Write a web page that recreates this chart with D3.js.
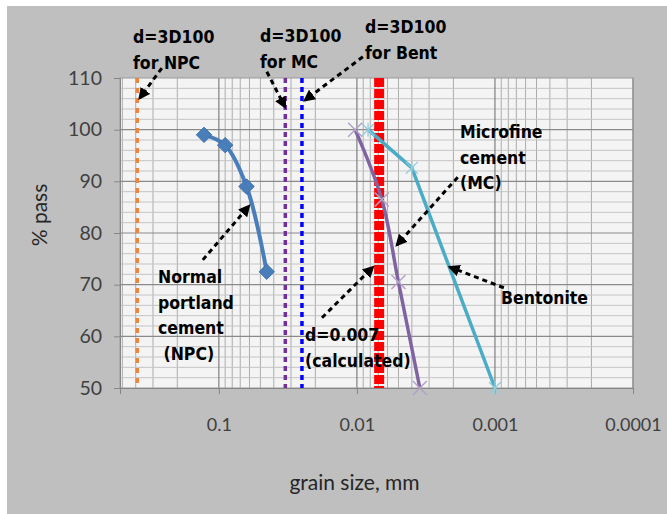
<!DOCTYPE html>
<html>
<head>
<meta charset="utf-8">
<script src="https://cdn.jsdelivr.net/npm/d3@7"></script>
<style>
  body { margin: 0; background: #fff; }
  svg { display: block; }
  .tick text { font-family: Lato, "Open Sans", sans-serif; fill: #404040; }
  .note { font-family: "Liberation Sans Narrow", "DejaVu Sans Condensed", sans-serif; font-weight: bold; font-size: 17.5px; fill: #000; }
</style>
</head>
<body>
<div id="chart"></div>
<script>
// grain size distribution data (mm, % passing)
var npcSize = [0.128, 0.090, 0.063, 0.045];
var npcPass = [99, 97, 89, 72.5];

var mcSize = [0.0103, 0.0066, 0.0050, 0.0035];
var mcPass = [100, 86.5, 70.5, 50];

var bentSize = [0.0083, 0.0040, 0.0010];
var bentPass = [100, 92.6, 50];

// vertical reference lines (d = 3 D100 and calculated d)
var refNames = ["NPC", "MC", "Bent", "calc"];
var refSize = [0.39, 0.033, 0.025, 0.0069];

var xTicks = [0.1, 0.01, 0.001, 0.0001];
var yTicks = [50, 60, 70, 80, 90, 100, 110];

// annotation arrows: [fromSize, fromPass, toSize, toPass]
var arrows = [
  [0.259, 111.9, 0.374, 106.1],
  [0.0449, 111.2, 0.0332, 104.4],
  [0.00905, 114.1, 0.0238, 105.7],
  [0.00186, 90.8, 0.00513, 77.7],
  [0.000862, 69.4, 0.00212, 73.4],
  [0.0179, 63.6, 0.00766, 73.4],
  [0.1306, 74.8, 0.0606, 85.2]
];

var W = 667, H = 514;
var margin = {left: 120, right: 34, top: 78, bottom: 126};
var width = W - margin.left - margin.right;
var height = H - margin.top - margin.bottom;

var svg = d3.select("#chart").append("svg").attr("width", W).attr("height", H);

svg.append("rect").attr("x", 7).attr("y", 6).attr("width", W - 7).attr("height", H - 6)
  .attr("fill", "#bfbfbf");

var x = d3.scaleLog().domain([0.52, 0.0001]).range([0, width]);
var y = d3.scaleLinear().domain([50, 110]).range([height, 0]);

var g = svg.append("g").attr("transform", "translate(" + margin.left + "," + margin.top + ")");

g.append("rect").attr("width", width).attr("height", height).attr("fill", "#f4f4f4");

// minor vertical grid (log)
var minorX = [];
[1, 0.1, 0.01, 0.001].forEach(function(dec) {
  for (var k = 2; k <= 9; k++) {
    var v = dec * k / 10;
    if (v < 0.52 && v > 0.0001) minorX.push(v);
  }
});
g.selectAll(".vminor").data(minorX).enter().append("line")
  .attr("x1", function(d) { return x(d); }).attr("x2", function(d) { return x(d); })
  .attr("y1", 0).attr("y2", height)
  .attr("stroke", "#acacac").attr("stroke-width", 1);

// horizontal grid
g.selectAll(".hgrid").data(d3.range(52, 110, 2)).enter().append("line")
  .attr("x1", 0).attr("x2", width)
  .attr("y1", function(d) { return y(d); }).attr("y2", function(d) { return y(d); })
  .attr("stroke", function(d) { return d % 10 === 0 ? "#8a8a8a" : "#c4c4c4"; })
  .attr("stroke-width", function(d) { return d % 10 === 0 ? 1.2 : 1; });

g.selectAll(".vmajor").data(xTicks).enter().append("line")
  .attr("x1", function(d) { return x(d); }).attr("x2", function(d) { return x(d); })
  .attr("y1", 0).attr("y2", height)
  .attr("stroke", "#7f7f7f").attr("stroke-width", 1.2);

g.append("rect").attr("width", width).attr("height", height)
  .attr("fill", "none").attr("stroke", "#9a9a9a");

// axes
var xAxis = d3.axisBottom(x).tickValues(xTicks).tickFormat(function(d) { return String(+d.toFixed(4)); })
  .tickSize(6).tickPadding(24);
var yAxis = d3.axisLeft(y).tickValues(yTicks).tickSize(6).tickPadding(12);

var gx = g.append("g").attr("transform", "translate(0," + height + ")").call(xAxis);
var gy = g.append("g").call(yAxis);
[gx, gy].forEach(function(a) {
  a.select(".domain").attr("stroke", "#868686");
  a.selectAll(".tick line").attr("stroke", "#868686");
});
gx.selectAll(".tick text").style("font-size", "18px");
gy.selectAll(".tick text").style("font-size", "19.5px");

// reference lines
var refStyle = {
  NPC: {c: "#f0843c", w: 3.5, dash: "5,5"},
  MC: {c: "#7030a0", w: 3.5, dash: "5,4"},
  Bent: {c: "#0000ff", w: 3.5, dash: "5,4"},
  calc: {c: "#ff0000", w: 10, dash: "9,2"}
};
g.selectAll(".ref").data(refNames).enter().append("line")
  .attr("x1", function(d, i) { return x(refSize[i]); })
  .attr("x2", function(d, i) { return x(refSize[i]); })
  .attr("y1", 0).attr("y2", height)
  .attr("stroke", function(d) { return refStyle[d].c; })
  .attr("stroke-width", function(d) { return refStyle[d].w; })
  .attr("stroke-dasharray", function(d) { return refStyle[d].dash; });

var line = d3.line()
  .x(function(d) { return x(d[0]); })
  .y(function(d) { return y(d[1]); })
  .curve(d3.curveCatmullRom.alpha(0.5));

function pairs(a, b) { return a.map(function(v, i) { return [v, b[i]]; }); }

var npc = pairs(npcSize, npcPass), mc = pairs(mcSize, mcPass), bent = pairs(bentSize, bentPass);

// MC series
g.append("path").attr("d", line(mc)).attr("fill", "none").attr("stroke", "#8064a2").attr("stroke-width", 3.5);
g.selectAll(".mcx").data(mc).enter().append("path")
  .attr("transform", function(d) { return "translate(" + x(d[0]) + "," + y(d[1]) + ")"; })
  .attr("d", "M-7,-7L7,7M-7,7L7,-7")
  .attr("stroke", "#b3a2c7").attr("stroke-width", 1.5);

// Bentonite series
g.append("path").attr("d", line.curve(d3.curveLinear)(bent)).attr("fill", "none").attr("stroke", "#4bacc6").attr("stroke-width", 3.5);
line.curve(d3.curveCatmullRom.alpha(0.5));
g.selectAll(".bx").data(bent).enter().append("path")
  .attr("transform", function(d) { return "translate(" + x(d[0]) + "," + y(d[1]) + ")"; })
  .attr("d", "M-6,-6L6,6M-6,6L6,-6M0,-7L0,7")
  .attr("stroke", "#92cddc").attr("stroke-width", 1.3);

// NPC series
g.append("path").attr("d", line(npc)).attr("fill", "none").attr("stroke", "#4a7ebb").attr("stroke-width", 4);
g.selectAll(".npcd").data(npc).enter().append("path")
  .attr("transform", function(d) { return "translate(" + x(d[0]) + "," + y(d[1]) + ")"; })
  .attr("d", d3.symbol().type(d3.symbolDiamond2).size(150))
  .attr("fill", "#4a7ebb").attr("stroke", "#3d6fa8").attr("stroke-width", 1);

// arrows
svg.append("defs").append("marker").attr("id", "head")
  .attr("viewBox", "0 0 10 10").attr("refX", 8).attr("refY", 5)
  .attr("markerWidth", 4).attr("markerHeight", 4).attr("orient", "auto")
  .append("path").attr("d", "M0,0L10,5L0,10z").attr("fill", "#000");

g.selectAll(".arrow").data(arrows).enter().append("line")
  .attr("x1", function(d) { return x(d[0]); }).attr("y1", function(d) { return y(d[1]); })
  .attr("x2", function(d) { return x(d[2]); }).attr("y2", function(d) { return y(d[3]); })
  .attr("stroke", "#000").attr("stroke-width", 3).attr("stroke-dasharray", "5,4")
  .attr("marker-end", "url(#head)");

// annotation labels
var notes = [
  {t: ["d=3D100", "for NPC"], x: 133, y: 43},
  {t: ["d=3D100", "for MC"], x: 260, y: 42},
  {t: ["d=3D100", "for Bent"], x: 365, y: 33},
  {t: ["Microfine", "cement", "(MC)"], x: 460, y: 138},
  {t: ["Bentonite"], x: 501, y: 304},
  {t: ["Normal", "portland", "cement", " (NPC)"], x: 158, y: 283},
  {t: ["d=0.007", "(calculated)"], x: 305, y: 341}
];
notes.forEach(function(n) {
  var txt = svg.append("text").attr("class", "note").attr("x", n.x).attr("y", n.y)
    .attr("xml:space", "preserve");
  n.t.forEach(function(s, i) {
    txt.append("tspan").attr("x", n.x).attr("dy", i === 0 ? 0 : 25.5).text(s);
  });
});

// axis titles
svg.append("text").attr("x", margin.left + width / 2 - 22).attr("y", 490)
  .attr("text-anchor", "middle").style("font-family", "Lato, 'Open Sans', sans-serif")
  .style("font-size", "21px").style("fill", "#262626").text("grain size, mm");

svg.append("text").attr("transform", "translate(47," + (margin.top + height / 2 - 18) + ") rotate(-90)")
  .attr("text-anchor", "middle").style("font-family", "Lato, 'Open Sans', sans-serif")
  .style("font-size", "21px").style("fill", "#262626").text("% pass");
</script>
</body>
</html>
